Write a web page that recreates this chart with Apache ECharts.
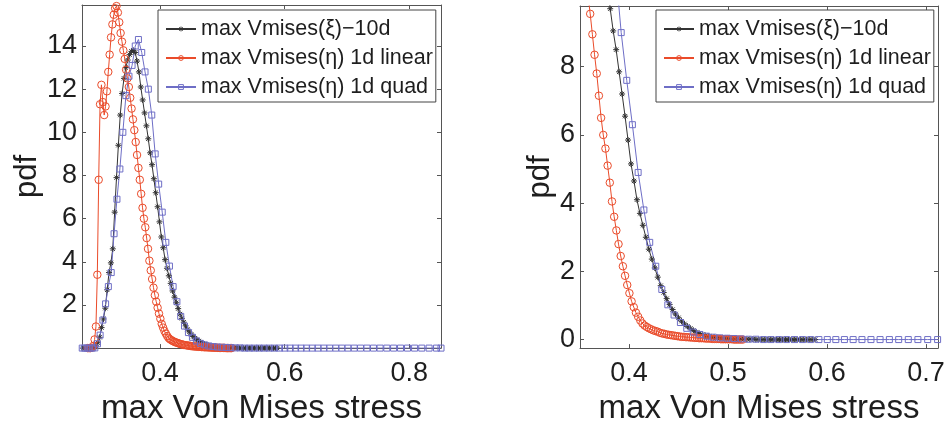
<!DOCTYPE html>
<html>
<head>
<meta charset="utf-8">
<script src="https://cdn.jsdelivr.net/npm/echarts@6/dist/echarts.min.js"></script>
<style>
html, body { margin: 0; padding: 0; background: #ffffff; }
#chart { width: 950px; height: 430px; }
</style>
</head>
<body>
<div id="chart"></div>
<script>
// Series names as shown in the legends
const seriesNames = ['max Vmises(\u03BE)\u221210d', 'max Vmises(\u03B7) 1d linear', 'max Vmises(\u03B7) 1d quad'];

// max Vmises(xi) - 10d reference density
const xiX = [
  0.276, 0.279, 0.282, 0.285, 0.288, 0.291, 0.294, 0.297, 0.300, 0.303,
  0.306, 0.309, 0.312, 0.315, 0.318, 0.321, 0.324, 0.327, 0.330, 0.333,
  0.336, 0.339, 0.342, 0.345, 0.348, 0.351, 0.354, 0.357, 0.360, 0.363,
  0.366, 0.369, 0.372, 0.375, 0.378, 0.381, 0.384, 0.387, 0.390, 0.393,
  0.396, 0.399, 0.402, 0.405, 0.408, 0.411, 0.414, 0.417, 0.420, 0.423,
  0.426, 0.429, 0.432, 0.435, 0.438, 0.441, 0.444, 0.447, 0.450, 0.453,
  0.456, 0.459, 0.462, 0.465, 0.468, 0.471, 0.474, 0.477, 0.480, 0.483,
  0.486, 0.489, 0.492, 0.495, 0.498, 0.501, 0.504, 0.507, 0.510, 0.513,
  0.516, 0.519, 0.522, 0.525, 0.528, 0.531, 0.534, 0.537, 0.540, 0.543,
  0.546, 0.549, 0.552, 0.555, 0.558, 0.561, 0.564, 0.567, 0.570, 0.573,
  0.576, 0.579, 0.582, 0.585, 0.588
];
const xiY = [
  0, 0, 0, 0, 0, 0.01, 0.04, 0.1, 0.25, 0.5,
  0.95, 1.35, 1.85, 2.7, 3.5, 3.95, 4.6, 6.3, 7.9, 9.4,
  10.8, 11.8, 12.5, 13.0, 13.35, 13.6, 13.75, 13.8, 13.7, 13.3,
  12.8, 12.1, 11.5, 10.9, 10.3, 9.7, 9.05, 8.5, 7.85, 7.2,
  6.55, 5.85, 5.15, 4.65, 4.1, 3.7, 3.35, 3.0, 2.65, 2.36,
  2.1, 1.83, 1.58, 1.38, 1.2, 1.03, 0.88, 0.75, 0.64, 0.54,
  0.46, 0.39, 0.33, 0.27, 0.22, 0.18, 0.15, 0.12, 0.1, 0.08,
  0.07, 0.06, 0.05, 0.04, 0.03, 0.03, 0.02, 0.02, 0.02, 0.01,
  0.01, 0.01, 0.01, 0.01, 0, 0, 0, 0, 0, 0,
  0, 0, 0, 0, 0, 0, 0, 0, 0, 0,
  0, 0, 0, 0, 0
];

// max Vmises(eta) - 1d linear
const linX = [
  0.2838, 0.2860, 0.2882, 0.2904, 0.2926, 0.2948, 0.2970, 0.2992, 0.3014, 0.3036,
  0.3058, 0.3080, 0.3102, 0.3124, 0.3146, 0.3168, 0.3190, 0.3212, 0.3234, 0.3256,
  0.3278, 0.3300, 0.3322, 0.3344, 0.3366, 0.3388, 0.3410, 0.3432, 0.3454, 0.3476,
  0.3498, 0.3520, 0.3542, 0.3564, 0.3586, 0.3608, 0.3630, 0.3652, 0.3674, 0.3696,
  0.3718, 0.3740, 0.3762, 0.3784, 0.3806, 0.3828, 0.3850, 0.3872, 0.3894, 0.3916,
  0.3938, 0.3960, 0.3982, 0.4004, 0.4026, 0.4048, 0.4070, 0.4092, 0.4114, 0.4136,
  0.4158, 0.4180, 0.4202, 0.4224, 0.4246, 0.4268, 0.4290, 0.4312, 0.4334, 0.4356,
  0.4378, 0.4400, 0.4422, 0.4444, 0.4466, 0.4488, 0.4510, 0.4532, 0.4554, 0.4576,
  0.4598, 0.4620, 0.4642, 0.4664, 0.4686, 0.4708, 0.4730, 0.4752, 0.4774, 0.4796,
  0.4818, 0.4840, 0.4862, 0.4884, 0.4906, 0.4928, 0.4950, 0.4972, 0.4994, 0.5016,
  0.5038, 0.5060, 0.5082, 0.5104, 0.5126, 0.5148
];
const linY = [
  0, 0, 0, 0.02, 0.1, 0.4, 1.0, 3.4, 7.8, 11.3,
  12.2, 11.4, 10.8, 11.2, 11.9, 12.8, 13.6, 14.4, 15.0, 15.45,
  15.75, 15.85, 15.55, 15.1, 14.6, 14.2, 13.8, 13.4, 12.9, 12.5,
  12.1, 11.6, 11.1, 10.6, 10.1, 9.55, 8.95, 8.35, 7.8, 7.15,
  6.5, 6.0, 5.6, 5.1, 4.6, 4.05, 3.6, 3.2, 2.8, 2.45,
  2.15, 1.87, 1.6, 1.36, 1.12, 0.95, 0.79, 0.67, 0.56, 0.47,
  0.41, 0.37, 0.33, 0.3, 0.27, 0.25, 0.23, 0.2, 0.18, 0.17,
  0.15, 0.14, 0.13, 0.12, 0.11, 0.1, 0.09, 0.08, 0.08, 0.07,
  0.07, 0.06, 0.06, 0.05, 0.05, 0.04, 0.04, 0.04, 0.03, 0.03,
  0.03, 0.02, 0.02, 0.02, 0.02, 0.01, 0.01, 0.01, 0.01, 0.01,
  0.01, 0, 0, 0, 0, 0
];

// max Vmises(eta) - 1d quadratic
const quadX = [
  0.2750, 0.2789, 0.2829, 0.2870, 0.2911, 0.2952, 0.2994, 0.3037, 0.3081, 0.3125,
  0.3169, 0.3215, 0.3261, 0.3307, 0.3354, 0.3402, 0.3451, 0.3500, 0.3550, 0.3601,
  0.3652, 0.3705, 0.3758, 0.3811, 0.3866, 0.3921, 0.3977, 0.4034, 0.4092, 0.4150,
  0.4209, 0.4270, 0.4331, 0.4392, 0.4455, 0.4519, 0.4583, 0.4649, 0.4715, 0.4783,
  0.4851, 0.4920, 0.4991, 0.5062, 0.5134, 0.5208, 0.5282, 0.5358, 0.5434, 0.5512,
  0.5591, 0.5671, 0.5752, 0.5834, 0.5917, 0.6002, 0.6088, 0.6175, 0.6263, 0.6352,
  0.6443, 0.6535, 0.6629, 0.6723, 0.6820, 0.6917, 0.7016, 0.7116, 0.7218, 0.7321,
  0.7426, 0.7532, 0.7640, 0.7749, 0.7860, 0.7972, 0.8086, 0.8201, 0.8319, 0.8438,
  0.8510
];
const quadY = [
  0, 0, 0, 0, 0, 0.01, 0.2, 0.6, 1.3, 2.05,
  2.85, 3.5, 5.3, 6.9, 8.3, 10.0, 11.7, 12.6, 13.1, 14.0,
  14.3, 13.7, 12.8, 12.0, 10.8, 9.0, 7.6, 6.3, 4.9, 3.8,
  2.85, 2.15, 1.47, 1.02, 0.72, 0.5, 0.33, 0.22, 0.15, 0.1,
  0.07, 0.05, 0.04, 0.03, 0.02, 0.01, 0.01, 0, 0, 0,
  0, 0, 0, 0, 0, 0, 0, 0, 0, 0,
  0, 0, 0, 0, 0, 0, 0, 0, 0, 0,
  0, 0, 0, 0, 0, 0, 0, 0, 0, 0,
  0
];

// Tick labels of both panels
const leftXTicks = [0.4, 0.6, 0.8];
const leftYTicks = [2, 4, 6, 8, 10, 12, 14];
const rightXTicks = [0.4, 0.5, 0.6, 0.7];
const rightYTicks = [0, 2, 4, 6, 8];

const FONT = "'Liberation Sans', Arial, Helvetica, sans-serif";
const TEXT = '#1e1e1e';
const BOX = '#555555';
const COLORS = ['#333333', '#ea4b2a', '#6e6ec6'];
const ASTERISK = 'path://M5,0L5,10M0,5L10,5M1.46,1.46L8.54,8.54M1.46,8.54L8.54,1.46';

function zip(xs, ys) {
  return xs.map((x, i) => [x, ys[i]]);
}

function xAxes(g, min, max, ticks) {
  const common = {
    type: 'value', gridIndex: g, min: min, max: max,
    splitLine: { show: false },
    axisLine: { show: true, onZero: false, lineStyle: { color: BOX, width: 1 } },
    axisTick: { show: true, inside: true, length: 4, customValues: ticks, lineStyle: { color: BOX, width: 1 } }
  };
  return [
    Object.assign({}, common, {
      position: 'bottom',
      axisLabel: { customValues: ticks, margin: 12, fontSize: 27, color: TEXT, fontFamily: FONT },
      name: 'max Von Mises stress', nameLocation: 'middle', nameGap: 34,
      nameTextStyle: { fontSize: 33, color: TEXT, fontFamily: FONT }
    }),
    Object.assign({}, common, { position: 'top', axisLabel: { show: false } })
  ];
}

function yAxes(g, min, max, ticks, gap) {
  const common = {
    type: 'value', gridIndex: g, min: min, max: max,
    splitLine: { show: false },
    axisLine: { show: true, onZero: false, lineStyle: { color: BOX, width: 1 } },
    axisTick: { show: true, inside: true, length: 4, customValues: ticks, lineStyle: { color: BOX, width: 1 } }
  };
  return [
    Object.assign({}, common, {
      position: 'left',
      axisLabel: { customValues: ticks, margin: 5, fontSize: 27, color: TEXT, fontFamily: FONT },
      name: 'pdf', nameLocation: 'middle', nameGap: gap,
      nameTextStyle: { fontSize: 31, color: TEXT, fontFamily: FONT }
    }),
    Object.assign({}, common, { position: 'right', axisLabel: { show: false } })
  ];
}

function lineSeries(g, k, xs, ys) {
  const symbols = [ASTERISK, 'circle', 'rect'];
  const sizes = [6, 7.5, 6];
  return {
    type: 'line', name: seriesNames[k],
    xAxisIndex: g * 2, yAxisIndex: g * 2,
    data: zip(xs, ys),
    symbol: symbols[k], symbolSize: sizes[k], showAllSymbol: true,
    itemStyle: { color: 'rgba(0,0,0,0)', borderColor: COLORS[k], borderWidth: 1 },
    lineStyle: { color: COLORS[k], width: 1 },
    clip: true, silent: true, animation: false,
    emphasis: { disabled: true }
  };
}

function legendAt(left) {
  return {
    left: left, top: 10, orient: 'vertical',
    data: seriesNames, selectedMode: false,
    backgroundColor: '#ffffff', borderColor: '#444444', borderWidth: 1, borderRadius: 0,
    padding: [8, 3, 4, 7], itemGap: 7, itemWidth: 30, itemHeight: 6,
    itemStyle: { color: 'rgba(0,0,0,0)', borderWidth: 1 },
    textStyle: { fontSize: 21.5, color: TEXT, fontFamily: FONT }
  };
}

const lx = xAxes(0, 0.2746, 0.851, leftXTicks);
const rx = xAxes(1, 0.3505, 0.712, rightXTicks);
const ly = yAxes(0, 0, 15.9, leftYTicks, 35);
const ry = yAxes(1, -0.25, 9.78, rightYTicks, 23);

const option = {
  backgroundColor: '#ffffff',
  animation: false,
  grid: [
    { left: 82, top: 5, width: 359, height: 358 },
    { left: 580, top: 6, width: 358, height: 357 }
  ],
  xAxis: [lx[0], lx[1], rx[0], rx[1]],
  yAxis: [ly[0], ly[1], ry[0], ry[1]],
  legend: [legendAt(158), legendAt(656)],
  series: [
    lineSeries(0, 0, xiX, xiY),
    lineSeries(0, 1, linX, linY),
    lineSeries(0, 2, quadX, quadY),
    lineSeries(1, 0, xiX, xiY),
    lineSeries(1, 1, linX, linY),
    lineSeries(1, 2, quadX, quadY)
  ]
};

// top/right mirror axes share the grid of their bottom/left partner
option.xAxis[1].gridIndex = 0;
option.xAxis[3].gridIndex = 1;
option.yAxis[1].gridIndex = 0;
option.yAxis[3].gridIndex = 1;

const chart = echarts.init(document.getElementById('chart'), null, { renderer: 'canvas' });
chart.setOption(option);
</script>
</body>
</html>
